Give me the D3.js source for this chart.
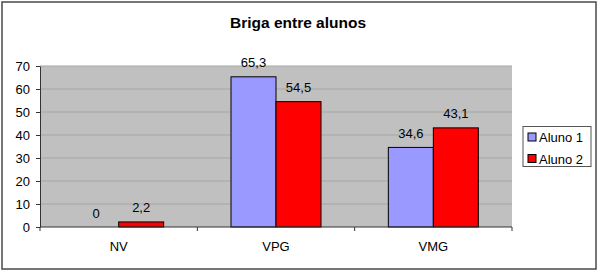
<!DOCTYPE html>
<html>
<head>
<meta charset="utf-8">
<script src="https://cdn.jsdelivr.net/npm/d3@7"></script>
<style>
  body { margin: 0; background: #fff; }
  text { font-family: "Liberation Sans", Arial, sans-serif; fill: #000; }
</style>
</head>
<body>
<div id="chart"></div>
<script>
// grouped bar chart, two series per category (old Excel look)
const categories = ["NV", "VPG", "VMG"];
const seriesNames = ["Aluno 1", "Aluno 2"];
const aluno1 = [0, 65.3, 34.6];
const aluno2 = [2.2, 54.5, 43.1];
const yTicks = [0, 10, 20, 30, 40, 50, 60, 70];
const colors = ["#9999ff", "#ff0000"];

const W = 606, H = 271;
const plot = { left: 40, right: 512, top: 66, bottom: 227 };

const svg = d3.select("#chart").append("svg")
  .attr("width", W).attr("height", H);

// outer chart border
svg.append("rect")
  .attr("x", 2).attr("y", 2).attr("width", 594).attr("height", 267)
  .attr("fill", "#fff").attr("stroke", "#4a4a4a").attr("stroke-width", 1.5);

svg.append("text")
  .attr("x", 298).attr("y", 28)
  .attr("text-anchor", "middle")
  .style("font-size", "15.5px").style("font-weight", "bold")
  .text("Briga entre alunos");

const x0 = d3.scaleBand().domain(categories).range([plot.left, plot.right]);
const barW = 45;
const x1 = d3.scaleBand().domain(seriesNames)
  .range([x0.bandwidth() / 2 - barW, x0.bandwidth() / 2 + barW]);
const y = d3.scaleLinear().domain([0, 70]).range([plot.bottom, plot.top]);

// plot area
svg.append("rect")
  .attr("x", plot.left).attr("y", plot.top)
  .attr("width", plot.right - plot.left).attr("height", plot.bottom - plot.top)
  .attr("fill", "#c0c0c0");

svg.append("g")
  .selectAll("line")
  .data(yTicks.slice(1))
  .join("line")
  .attr("x1", plot.left).attr("x2", plot.right)
  .attr("y1", d => y(d)).attr("y2", d => y(d))
  .attr("stroke", "#a6a6a6").attr("stroke-width", 1);

// y axis
const yAxis = svg.append("g")
  .attr("transform", `translate(${plot.left},0)`)
  .call(d3.axisLeft(y).tickValues(yTicks).tickSize(4).tickSizeOuter(0).tickPadding(6));
yAxis.selectAll("text").style("font-size", "13px").style("font-family", "Liberation Sans, Arial, sans-serif");
yAxis.selectAll("line, path").attr("stroke", "#333");

// bars
const rows = categories.map((c, i) => ({ cat: c, vals: [aluno1[i], aluno2[i]] }));
const groups = svg.append("g").selectAll("g")
  .data(rows)
  .join("g")
  .attr("transform", d => `translate(${x0(d.cat)},0)`);

groups.selectAll("rect")
  .data(d => d.vals.map((v, j) => ({ name: seriesNames[j], v: v, j: j })).filter(e => e.v > 0))
  .join("rect")
  .attr("x", d => x1(d.name))
  .attr("y", d => y(d.v))
  .attr("width", x1.bandwidth())
  .attr("height", d => y(0) - y(d.v))
  .attr("fill", d => colors[d.j])
  .attr("stroke", "#000").attr("stroke-width", 1);

groups.selectAll("text")
  .data(d => d.vals.map((v, j) => ({ name: seriesNames[j], v: v })))
  .join("text")
  .attr("x", d => x1(d.name) + x1.bandwidth() / 2)
  .attr("y", d => y(d.v) - 9.5)
  .attr("text-anchor", "middle")
  .style("font-size", "13px")
  .text(d => String(d.v).replace(".", ","));

// x axis
svg.append("line")
  .attr("x1", plot.left).attr("x2", plot.right)
  .attr("y1", y(0)).attr("y2", y(0))
  .attr("stroke", "#333");

const bounds = categories.map(c => x0(c)).concat([x0.range()[1]]);
svg.append("g").selectAll("line")
  .data(bounds)
  .join("line")
  .attr("x1", d => d).attr("x2", d => d)
  .attr("y1", y(0)).attr("y2", y(0) + 4)
  .attr("stroke", "#333");

svg.append("g").selectAll("text")
  .data(categories)
  .join("text")
  .attr("x", d => x0(d) + x0.bandwidth() / 2)
  .attr("y", y(0) + 23.5)
  .attr("text-anchor", "middle")
  .style("font-size", "13px")
  .text(d => d);

// legend
const legend = svg.append("g");
legend.append("rect")
  .attr("x", 523).attr("y", 126.5).attr("width", 68).attr("height", 40)
  .attr("fill", "#fff").attr("stroke", "#555");

const items = legend.selectAll("g")
  .data(seriesNames)
  .join("g")
  .attr("transform", (d, i) => `translate(528,${133 + i * 21.5})`);
items.append("rect")
  .attr("width", 8).attr("height", 8)
  .attr("fill", (d, i) => colors[i]).attr("stroke", "#000");
items.append("text")
  .attr("x", 11).attr("y", 9)
  .style("font-size", "13px")
  .text(d => d);
</script>
</body>
</html>
